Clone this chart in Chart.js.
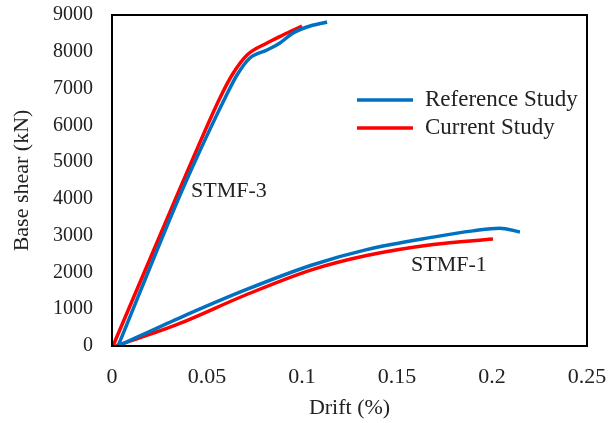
<!DOCTYPE html>
<html>
<head>
<meta charset="utf-8">
<script src="https://cdn.jsdelivr.net/npm/chart.js@4.4.1/dist/chart.umd.min.js"></script>
<style>
html, body { margin: 0; padding: 0; background: #fff; }
#wrap { width: 609px; height: 423px; }
</style>
</head>
<body>
<div id="wrap"><canvas id="grafica"></canvas></div>
<script>
// valores
const refS3Drift = [0.0032, 0.0347, 0.0453, 0.0595, 0.0658, 0.0726, 0.0816, 0.0884, 0.0953, 0.1026, 0.1132];
const refS3Shear = [0, 3970, 5200, 6743, 7369, 7831, 8048, 8239, 8511, 8674, 8810];
const curS3Drift = [0.0005, 0.0332, 0.0437, 0.0568, 0.0632, 0.0711, 0.0816, 0.09, 0.1];
const curS3Shear = [0, 3970, 5230, 6743, 7369, 7912, 8239, 8456, 8700];
const refS1Drift = [0.0032, 0.0351, 0.0702, 0.1053, 0.134, 0.169, 0.19, 0.204, 0.2147];
const refS1Shear = [0, 753, 1523, 2202, 2620, 2960, 3130, 3205, 3100];
const curS1Drift = [0.002, 0.035, 0.07, 0.105, 0.134, 0.169, 0.2005];
const curS1Shear = [0, 600, 1380, 2070, 2460, 2760, 2909];
const xTicks = [0, 0.05, 0.1, 0.15, 0.2, 0.25];
const yTicks = [0, 1000, 2000, 3000, 4000, 5000, 6000, 7000, 8000, 9000];
const seriesNames = ["Reference Study", "Current Study"];
const curveNames = ["STMF-3", "STMF-1"];
const curvePos = [[0.0416, 4214], [0.1574, 2202]];

const azul = '#0070C0';
const rojo = '#FF0000';
const fuente = '"Liberation Serif", "Times New Roman", serif';

function puntos(xs, ys) {
    return xs.map((x, i) => ({x: x, y: ys[i]}));
}
function serie(label, xs, ys, color) {
    return {
        label: label,
        data: puntos(xs, ys),
        borderColor: color,
        borderWidth: 3.5,
        pointRadius: 0,
        fill: false,
        cubicInterpolationMode: 'monotone',
    };
}
function sinPadding(s) {
    s.paddingLeft = 0;
    s.paddingRight = 0;
    s.paddingTop = 0;
    s.paddingBottom = 0;
}

// marco, leyenda y etiquetas de curvas
const extras = {
    id: 'extras',
    afterDraw(chart) {
        const ctx = chart.ctx;
        const a = chart.chartArea;
        const xs = chart.scales.x, ys = chart.scales.y;
        ctx.save();
        ctx.strokeStyle = '#000';
        ctx.lineWidth = 2;
        ctx.strokeRect(a.left, a.top, a.right - a.left, a.bottom - a.top);

        ctx.font = '23px ' + fuente;
        ctx.fillStyle = '#222';
        ctx.textBaseline = 'middle';
        ctx.textAlign = 'left';
        const colores = [azul, rojo];
        seriesNames.forEach((n, i) => {
            const y = a.top + 85 + i * 28;
            ctx.strokeStyle = colores[i];
            ctx.lineWidth = 3.5;
            ctx.beginPath();
            ctx.moveTo(a.left + 245, y);
            ctx.lineTo(a.left + 301, y);
            ctx.stroke();
            ctx.fillText(n, a.left + 313, y);
        });
        ctx.font = '22px ' + fuente;
        curveNames.forEach((n, i) => {
            ctx.fillText(n, xs.getPixelForValue(curvePos[i][0]), ys.getPixelForValue(curvePos[i][1]));
        });
        ctx.restore();
    }
};

const grafica = document.querySelector('#grafica');
const myChart = new Chart(grafica, {
    type: 'line',
    data: {
        datasets: [
            serie('Reference Study', refS3Drift, refS3Shear, azul),
            serie('Current Study', curS3Drift, curS3Shear, rojo),
            serie('Reference Study', refS1Drift, refS1Shear, azul),
            serie('Current Study', curS1Drift, curS1Shear, rojo),
        ]
    },
    options: {
        responsive: true,
        maintainAspectRatio: false,
        animation: false,
        layout: { padding: { top: 15, right: 22, left: 0, bottom: 0 } },
        plugins: {
            legend: { display: false },
            tooltip: { enabled: false },
        },
        scales: {
            x: {
                type: 'linear',
                min: 0,
                max: 0.25,
                afterBuildTicks: (s) => { s.ticks = xTicks.map(v => ({value: v})); },
                afterFit: (s) => { s.height = 77; sinPadding(s); },
                grid: { display: false },
                border: { display: false },
                ticks: {
                    padding: 10,
                    color: '#222',
                    font: { family: fuente, size: 22 },
                    callback: (v) => String(v),
                },
                title: {
                    display: true,
                    text: 'Drift (%)',
                    color: '#222',
                    font: { family: fuente, size: 22 },
                    padding: { top: 0, bottom: 2 },
                },
            },
            y: {
                min: 0,
                max: 9000,
                afterBuildTicks: (s) => { s.ticks = yTicks.map(v => ({value: v})); },
                afterFit: (s) => { s.width = 112; sinPadding(s); },
                grid: { display: false },
                border: { display: false },
                ticks: {
                    padding: 11,
                    color: '#222',
                    font: { family: fuente, size: 20 },
                    callback: (v) => String(v),
                },
                title: {
                    display: true,
                    text: 'Base shear (kN)',
                    color: '#222',
                    font: { family: fuente, size: 22 },
                    padding: { top: 9, bottom: 0 },
                },
            },
        },
    },
    plugins: [extras],
});
</script>
</body>
</html>
